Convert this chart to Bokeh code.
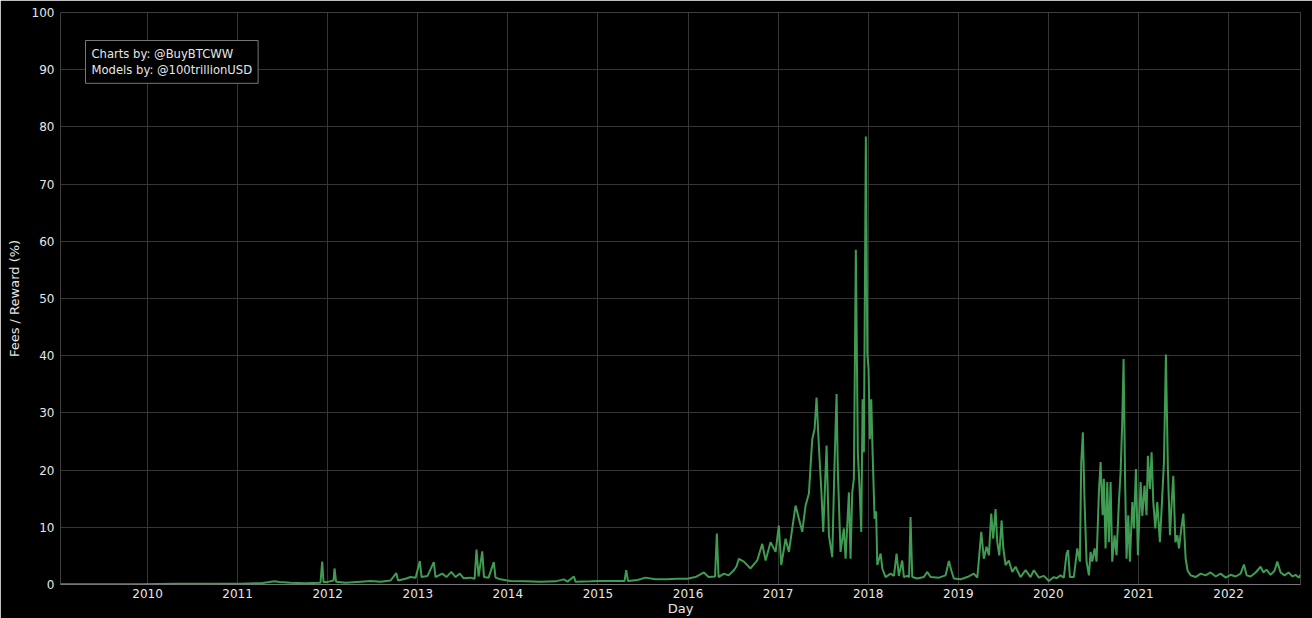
from bokeh.plotting import figure
from bokeh.models import Range1d, FixedTicker, Label
from bokeh.embed import file_html
from bokeh.resources import INLINE

# Fees / Reward (%); dates as decimal years
t_early = [2009.034, 2009.478, 2009.922, 2010.311, 2010.699, 2011.032, 2011.277, 2011.410, 2011.465, 2011.587,
           2011.754, 2011.920, 2011.939, 2011.954, 2012.009, 2012.065, 2012.076, 2012.093, 2012.198, 2012.365,
           2012.476, 2012.587, 2012.698, 2012.761, 2012.781, 2012.864, 2012.920, 2012.976, 2013.023, 2013.042,
           2013.108, 2013.178, 2013.197, 2013.272, 2013.319, 2013.372, 2013.419, 2013.467, 2013.508, 2013.586,
           2013.631, 2013.652, 2013.675, 2013.716, 2013.735, 2013.786, 2013.844, 2013.863, 2013.919]
v_early = [0.05, 0.05, 0.05, 0.15, 0.12, 0.15, 0.25, 0.55, 0.45, 0.3,
           0.2, 0.3, 4.0, 0.4, 0.5, 0.7, 2.8, 0.5, 0.3, 0.5,
           0.6, 0.5, 0.7, 2.0, 0.7, 1.0, 1.3, 1.2, 4.1, 1.3,
           1.5, 3.9, 1.3, 1.9, 1.3, 2.2, 1.3, 1.9, 1.1, 1.2,
           1.0, 6.1, 1.4, 5.8, 1.3, 1.2, 3.9, 1.2, 0.9]

t_mid = [2014.030, 2014.196, 2014.363, 2014.529, 2014.622, 2014.663, 2014.733, 2014.751, 2014.918, 2015.029,
         2015.195, 2015.295, 2015.314, 2015.334, 2015.440, 2015.528, 2015.639, 2015.769, 2015.872, 2015.991,
         2016.083, 2016.176, 2016.228, 2016.300, 2016.320, 2016.339, 2016.398, 2016.450, 2016.509, 2016.539,
         2016.564, 2016.620, 2016.694, 2016.768, 2016.824, 2016.861, 2016.916, 2016.972]
v_mid = [0.6, 0.55, 0.5, 0.55, 0.9, 0.5, 1.4, 0.5, 0.55, 0.6,
         0.6, 0.6, 2.5, 0.6, 0.8, 1.2, 0.9, 0.9, 1.0, 1.0,
         1.3, 2.1, 1.3, 1.4, 8.9, 1.3, 1.9, 1.6, 2.5, 3.2,
         4.5, 4.0, 2.8, 4.2, 7.1, 4.2, 7.4, 5.7]

t_2017 = [2017.008, 2017.035, 2017.083, 2017.120, 2017.157, 2017.194, 2017.231, 2017.268, 2017.305, 2017.342,
          2017.379, 2017.405, 2017.427, 2017.452, 2017.479, 2017.501, 2017.538, 2017.564, 2017.601, 2017.627,
          2017.649, 2017.663, 2017.693, 2017.730, 2017.749, 2017.786, 2017.804, 2017.823, 2017.841, 2017.863,
          2017.885, 2017.908, 2017.923, 2017.938, 2017.952, 2017.974, 2017.990, 2018.004, 2018.019, 2018.034,
          2018.049, 2018.071, 2018.088, 2018.101, 2018.138, 2018.157, 2018.193]
v_2017 = [10.3, 3.4, 8.0, 5.7, 9.8, 13.8, 11.5, 9.2, 13.8, 15.9,
          25.4, 27.2, 32.7, 24.3, 16.7, 9.2, 24.3, 8.6, 4.8, 21.4,
          33.3, 20.0, 5.7, 9.8, 4.5, 16.1, 4.5, 16.1, 18.5, 58.5,
          23.1, 15.6, 9.2, 32.4, 23.1, 78.3, 40.5, 37.6, 25.4, 32.4,
          23.1, 11.5, 12.8, 3.4, 5.4, 2.8, 1.3]

t_2018 = [2018.249, 2018.286, 2018.315, 2018.340, 2018.378, 2018.396, 2018.434, 2018.454, 2018.470, 2018.489,
          2018.545, 2018.618, 2018.656, 2018.692, 2018.785, 2018.859, 2018.896, 2018.922, 2018.951, 2019.025,
          2019.100, 2019.173, 2019.211, 2019.233, 2019.255, 2019.284, 2019.314, 2019.340, 2019.366, 2019.388,
          2019.414, 2019.433, 2019.455, 2019.481, 2019.500, 2019.525, 2019.561, 2019.599, 2019.636, 2019.691,
          2019.747, 2019.802, 2019.839, 2019.895, 2019.950]
v_2018 = [1.9, 1.5, 5.4, 1.5, 4.2, 1.3, 1.5, 1.3, 11.8, 1.3,
          1.05, 1.3, 2.2, 1.3, 1.2, 1.6, 4.1, 2.5, 1.05, 0.9,
          1.3, 1.9, 1.2, 5.1, 9.2, 4.5, 6.6, 5.1, 12.4, 8.0,
          13.2, 7.4, 5.1, 11.2, 6.3, 3.4, 4.2, 2.2, 3.1, 1.3,
          2.5, 1.3, 2.5, 1.2, 1.5]

t_2020 = [2020.006, 2020.061, 2020.091, 2020.135, 2020.172, 2020.202, 2020.219, 2020.239, 2020.283, 2020.321,
          2020.350, 2020.365, 2020.383, 2020.402, 2020.424, 2020.450, 2020.469, 2020.488, 2020.513, 2020.535,
          2020.561, 2020.580, 2020.602, 2020.616, 2020.635, 2020.654, 2020.672, 2020.691, 2020.709, 2020.735,
          2020.757, 2020.783, 2020.802, 2020.820, 2020.835, 2020.852, 2020.868, 2020.887, 2020.905, 2020.932,
          2020.950, 2020.972, 2020.994, 2021.024, 2021.043, 2021.068, 2021.090, 2021.105, 2021.127, 2021.146,
          2021.165, 2021.187, 2021.209, 2021.238, 2021.261, 2021.283, 2021.305, 2021.327, 2021.350, 2021.365,
          2021.387, 2021.410, 2021.432, 2021.450, 2021.476, 2021.499, 2021.524, 2021.546]
v_2020 = [0.6, 1.3, 1.1, 1.6, 1.2, 5.4, 6.0, 1.3, 1.3, 6.3,
          4.0, 21.4, 26.6, 14.4, 4.0, 1.6, 5.7, 4.0, 6.3, 4.0,
          16.1, 21.4, 12.1, 18.5, 6.3, 17.9, 7.4, 17.9, 4.0, 8.6,
          5.1, 14.4, 19.6, 28.3, 39.4, 18.0, 4.5, 12.1, 4.0, 14.4,
          9.8, 20.2, 5.1, 17.9, 12.0, 17.3, 12.1, 22.5, 16.7, 23.1,
          14.4, 9.8, 14.4, 7.4, 14.4, 21.4, 40.2, 20.2, 8.6, 13.2,
          19.0, 7.4, 8.6, 6.3, 9.8, 12.4, 4.5, 2.4]

t_late = [2021.580, 2021.635, 2021.690, 2021.746, 2021.801, 2021.857, 2021.912, 2021.968, 2022.023, 2022.079,
          2022.134, 2022.171, 2022.201, 2022.245, 2022.301, 2022.356, 2022.388, 2022.421, 2022.467, 2022.511,
          2022.541, 2022.578, 2022.622, 2022.667, 2022.711, 2022.744, 2022.778, 2022.800]
v_late = [1.6, 1.3, 1.9, 1.6, 2.1, 1.4, 1.9, 1.2, 1.7, 1.4,
          1.9, 3.5, 1.6, 1.4, 2.1, 3.1, 2.1, 2.6, 1.7, 2.4,
          4.0, 2.1, 1.6, 2.1, 1.4, 1.7, 1.2, 1.7]

year_ticks = list(range(2010, 2023))
pct_ticks = list(range(0, 101, 10))

days = t_early + t_mid + t_2017 + t_2018 + t_2020 + t_late
fees = v_early + v_mid + v_2017 + v_2018 + v_2020 + v_late

p = figure(width=1312, height=618, output_backend="svg", toolbar_location=None,
           x_range=Range1d(2009.034, 2022.799), y_range=Range1d(0, 100),
           background_fill_color="black", border_fill_color="black",
           min_border_left=60, min_border_right=12, min_border_top=12, min_border_bottom=30)
p.outline_line_color = None

p.line(days, fees, line_color="#3f9c52", line_width=2)

for ax in (p.xaxis[0], p.yaxis[0]):
    ax.major_label_text_color = "#e6e6e6"
    ax.major_label_text_font = "DejaVu Sans"
    ax.major_label_text_font_size = "12px"
    ax.axis_label_text_color = "#e6e6e6"
    ax.axis_label_text_font = "DejaVu Sans"
    ax.axis_label_text_font_size = "13px"
    ax.axis_label_text_font_style = "normal"
    ax.major_tick_line_color = None
    ax.minor_tick_line_color = None
    ax.major_tick_out = 0
    ax.minor_tick_out = 0
    ax.major_tick_in = 0
    ax.minor_tick_in = 0

p.xaxis.ticker = FixedTicker(ticks=year_ticks)
p.yaxis.ticker = FixedTicker(ticks=pct_ticks)
p.xaxis.axis_label = "Day"
p.yaxis.axis_label = "Fees / Reward (%)"
p.xaxis.axis_line_color = "#777777"
p.yaxis.axis_line_color = None
p.xaxis.major_label_standoff = 4
p.yaxis.major_label_standoff = 6
p.xaxis.axis_label_standoff = 0
p.yaxis.axis_label_standoff = 7

p.xgrid.grid_line_color = "#363636"
p.ygrid.grid_line_color = "#363636"

lab = Label(x=25, y=544, x_units="screen", y_units="screen",
            text="Charts by: @BuyBTCWW\nModels by: @100trillionUSD",
            text_color="#e6e6e6", text_font="DejaVu Sans", text_font_size="11.6px",
            text_align="left", text_baseline="top",
            border_line_color="#777777", background_fill_color="black", padding=6)
p.add_layout(lab)

html = file_html(p, INLINE)
html = html.replace("<body>", '<body style="background-color: black; margin: 0;">', 1)
open("out.html", "w").write(html)
